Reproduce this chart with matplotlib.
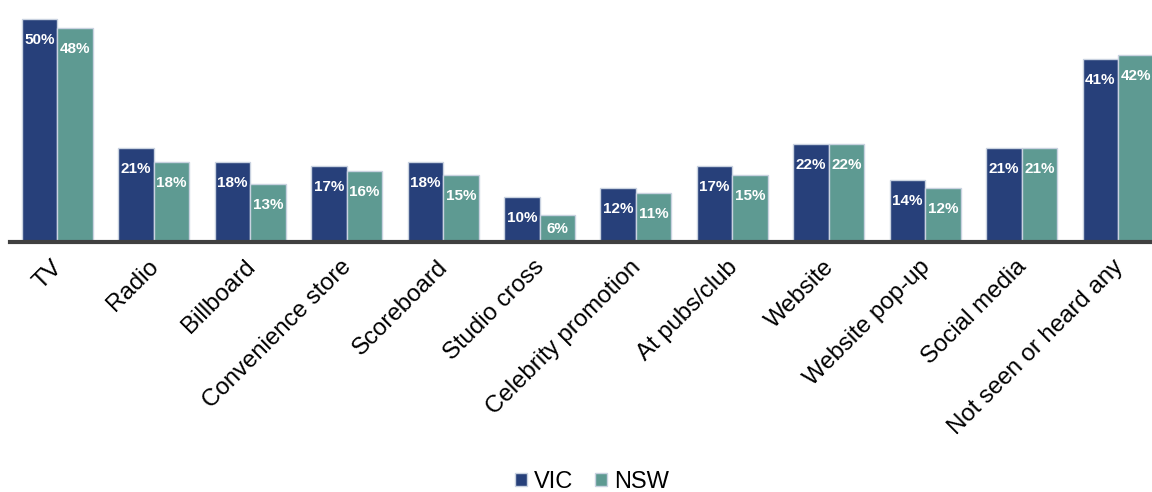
import numpy as np
import matplotlib.pyplot as plt
from matplotlib.transforms import ScaledTranslation

plt.rcParams['font.family'] = ['Liberation Sans', 'DejaVu Sans']

# Ad channel awareness by state
channels = ['TV', 'Radio', 'Billboard', 'Convenience store', 'Scoreboard',
            'Studio cross', 'Celebrity promotion', 'At pubs/club', 'Website',
            'Website pop-up', 'Social media', 'Not seen or heard any']
vic = [50, 21, 18, 17, 18, 10, 12, 17, 22, 14, 21, 41]
nsw = [48, 18, 13, 16, 15, 6, 11, 15, 22, 12, 21, 42]

vic_color = '#27407a'
nsw_color = '#5e9a92'
edge = '#c9d2e0'

fig = plt.figure(figsize=(11.52, 4.92), dpi=100)
ax = fig.add_axes([10 / 1152, 250 / 492, 1 - 10 / 1152, 232 / 492])

x = np.arange(len(channels))
w = 0.368
b1 = ax.bar(x - w / 2, vic, w, color=vic_color, edgecolor=edge, linewidth=1, label='VIC')
b2 = ax.bar(x + w / 2, nsw, w, color=nsw_color, edgecolor=edge, linewidth=1, label='NSW')

ax.set_xlim(-0.49, 11.35)
ax.set_ylim(0, 52)

# value labels sit inside the bar top, pushed up for very short bars
px_per_unit = 232 / 52
for bars, vals in ((b1, vic), (b2, nsw)):
    for rect, v in zip(bars, vals):
        off = min(21, v * px_per_unit - 13)
        ax.annotate(f'{v}%', (rect.get_x() + rect.get_width() / 2, v),
                    xytext=(0, -off), textcoords='offset pixels',
                    ha='center', va='center', color='white',
                    fontsize=11, fontweight='bold')

ax.set_yticks([])
for s in ('top', 'right', 'left'):
    ax.spines[s].set_visible(False)
ax.spines['bottom'].set_color('#404040')
ax.spines['bottom'].set_linewidth(3)

ax.set_xticks(x)
ax.set_xticklabels(channels, rotation=45, ha='right', rotation_mode='anchor',
                   fontsize=17.3)
ax.tick_params(axis='x', length=0, pad=10)
shift = ScaledTranslation(-0.06, 0, fig.dpi_scale_trans)
for lbl in ax.get_xticklabels():
    lbl.set_transform(lbl.get_transform() + shift)

fig.legend(loc='center', bbox_to_anchor=(592 / 1152, 1 - 482 / 492), ncol=2,
           frameon=False, fontsize=17, handlelength=0.5, handleheight=0.5,
           handletextpad=0.3, columnspacing=0.9)

fig.savefig('out.png', dpi=100)
